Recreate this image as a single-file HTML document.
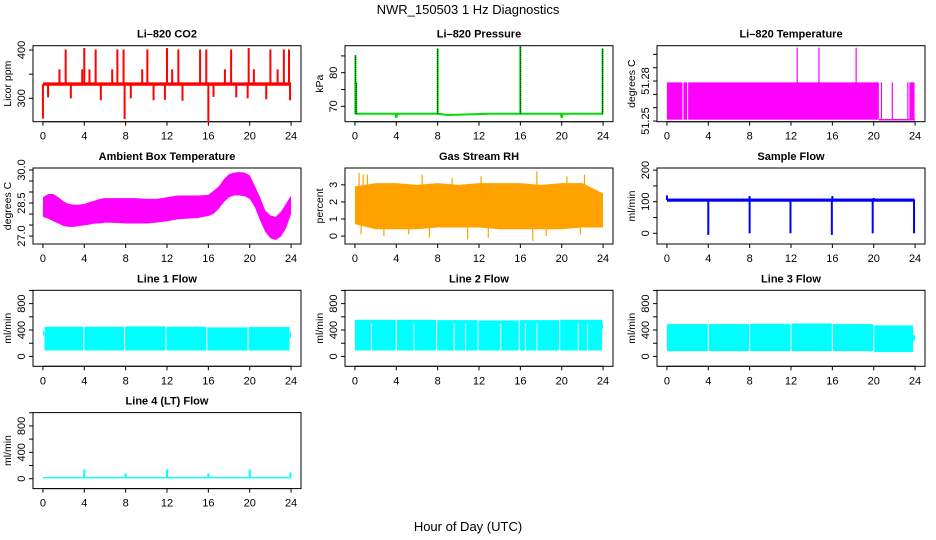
<!DOCTYPE html>
<html><head><meta charset="utf-8"><title>NWR_150503 1 Hz Diagnostics</title>
<style>
html,body{margin:0;padding:0;background:#fff;}
svg{display:block;font-family:"Liberation Sans",Arial,sans-serif;}
</style></head>
<body>
<svg id="chart" width="936" height="540" viewBox="0 0 936 540" xmlns="http://www.w3.org/2000/svg">
<text x="468" y="14" text-anchor="middle" font-size="13">NWR_150503 1 Hz Diagnostics</text>
<text x="468" y="531" text-anchor="middle" font-size="13">Hour of Day (UTC)</text>
</svg>
<script>
// ---------- data ----------
// CO2
const co2Base = [326, 333];
const co2SpikeT = [2.2,4.0,5.1,7.2,7.8,10.1,12.0,13.1,15.2,15.8,18.2,19.9,22.0,23.3,23.8,1.6,3.8,4.5,6.7,9.6,12.5,17.6,20.4,22.7,0.0,0.5,2.7,5.6,7.9,8.5,10.7,11.8,13.5,16.0,16.5,18.7,19.8,21.6,23.9];
const co2SpikeV = [401,404,401,401,401,401,404,401,401,401,401,404,401,401,401,360,360,360,360,360,360,360,360,360,258,302,300,296,257,300,296,297,295,250,303,302,300,298,296];
// Pressure
const presT = [0,0.8,3.9,4.0,4.1,8.0,9.0,13.0,16.0,19.9,20.0,20.1,24];
const presV = [67.8,67.8,67.8,66.6,67.8,67.8,67.4,67.8,67.8,67.8,66.6,67.8,67.8];
const presSpikeT = [0.05,0.12,8.0,16.0,23.95];
const presSpikeV = [85.2,77.0,87.2,87.8,87.2];
// Li-820 temperature
const tempBlockS = [0.0,1.6,2.05,23.45];
const tempBlockE = [1.5,1.95,20.5,23.95];
const tempLo = 51.251, tempHi = 51.279;
const tempLineS = 20.5, tempLineE = 24.0;
const tempSpikeT = [12.6,14.7,18.3,20.75,21.8,23.3];
const tempSpikeV = [51.305,51.305,51.305,51.279,51.279,51.279];
// Ambient box temperature
const ambT = [0,0.5,1,1.5,2,2.5,3,3.5,4,4.5,5,5.5,6,7,8,9,10,11,12,13,14,15,16,16.5,17,17.5,18,18.5,19,19.5,20,20.5,21,21.5,22,22.5,23,23.5,24];
const ambHi = [28.76,28.91,28.91,28.76,28.57,28.46,28.43,28.43,28.46,28.54,28.61,28.69,28.72,28.72,28.72,28.72,28.69,28.69,28.76,28.84,28.84,28.84,28.87,29.06,29.25,29.58,29.81,29.88,29.91,29.88,29.76,29.28,28.76,28.16,27.94,27.87,28.09,28.46,28.84];
const ambLo = [27.87,27.79,27.67,27.57,27.45,27.42,27.42,27.45,27.49,27.52,27.57,27.57,27.61,27.60,27.57,27.57,27.57,27.61,27.67,27.76,27.79,27.82,27.91,28.01,28.24,28.54,28.76,28.84,28.84,28.81,28.69,28.31,27.72,27.19,26.90,26.82,26.97,27.34,28.01];
// Gas stream RH
const rhT = [0,2,4,6,8,10,12,14,16,18,20,22,24];
const rhHi = [2.9,3.1,3.1,3.0,3.1,3.0,3.1,3.1,3.1,3.0,3.1,3.1,2.5];
const rhLo = [0.7,0.4,0.4,0.4,0.5,0.5,0.5,0.4,0.4,0.4,0.4,0.5,0.5];
const rhSpikeT = [0.4,0.8,1.2,6.5,9.4,12.2,17.6,20.5,22.2,0.6,2.8,5.2,7.2,10.9,12.9,17.2,18.5,21.8];
const rhSpikeV = [3.7,3.6,3.6,3.6,3.4,3.5,3.8,3.5,3.6,0.1,0.0,0.1,-0.1,-0.2,-0.1,-0.3,0.0,0.1];
// Sample flow
const sfBase = [100, 110];
const sfDropT = [4.0,8.0,11.95,15.95,19.9,23.9];
const sfDropV = [-5,0,0,-5,0,0];
const sfBumpT = [0.0,8.0,16.0,20.0];
const sfBumpV = [120,118,118,112];
// Line flows (blocks)
const l1S = [0.15,4.0,7.95,11.95,15.9,19.9];
const l1E = [3.9,7.85,11.85,15.8,19.8,23.85];
const l1Hi = [450,450,455,450,440,445];
const l1Lo = [90,90,90,90,90,90];
const l2S = [0.0,4.05,7.95,11.95,15.95,19.85];
const l2E = [3.95,7.85,11.85,15.85,19.75,23.9];
const l2Hi = [555,555,550,545,550,555];
const l2Lo = [90,90,90,90,90,90];
const l2GapT = [1.6,5.7,9.6,10.7,14.1,16.5,17.6,21.6,22.5];
const l3S = [0.0,4.05,8.05,12.05,16.05,20.05];
const l3E = [3.95,7.95,11.95,15.95,19.95,23.8];
const l3Hi = [490,490,495,500,490,470];
const l3Lo = [80,80,80,80,80,65];
const l4Base = [5, 25];
const l4SpikeT = [4.0,8.0,12.0,16.0,20.0,23.95];
const l4SpikeV = [140,80,140,80,140,95];

// ---------- helpers ----------
const NS = "http://www.w3.org/2000/svg";
const svg = document.getElementById("chart");
function mk(tag, attrs, parent) {
  const e = document.createElementNS(NS, tag);
  for (const k in attrs) e.setAttribute(k, attrs[k]);
  (parent || svg).appendChild(e);
  return e;
}
function panel(c, r, ylo, yhi, ticks, labels, title, ytitle, key) {
  const L = 33 + 312 * c, R = 301 + 312 * c;
  const T = 45.7 + 122.3 * r, B = 121.7 + 122.3 * r;
  const g = mk("g", {});
  
  
  const xs = h => L + (h + 0.96) / 25.92 * (R - L);
  const ys = v => B - (v - ylo) / (yhi - ylo) * (B - T);
  const t = mk("text", {x: (L + R) / 2, y: T - 8, "text-anchor": "middle", "font-size": 11, "font-weight": "bold"}, g);
  t.textContent = title;
  
  
  const yt = mk("text", {transform: `translate(${L - 22},${(T + B) / 2}) rotate(-90)`, "text-anchor": "middle", "font-size": 10.5}, g);
  yt.textContent = ytitle;
  
  
  const box = mk("rect", {x: L, y: T, width: R - L, height: B - T, fill: "none", stroke: "#000", "stroke-width": 1}, g);
  
  
  const xa = mk("g", {}, g);
  
  
  mk("line", {x1: xs(0), x2: xs(24), y1: B, y2: B, stroke: "#000"}, xa);
  for (let h = 0; h <= 24; h += 4) {
    mk("line", {x1: xs(h), x2: xs(h), y1: B, y2: B + 4, stroke: "#000"}, xa);
    const lt = mk("text", {x: xs(h), y: B + 18, "text-anchor": "middle", "font-size": 11}, xa);
    lt.textContent = h;
  }
  const ya = mk("g", {}, g);
  
  
  mk("line", {x1: L, x2: L, y1: ys(ticks[0]), y2: ys(ticks[ticks.length - 1]), stroke: "#000"}, ya);
  ticks.forEach(v => mk("line", {x1: L - 4, x2: L, y1: ys(v), y2: ys(v), stroke: "#000"}, ya));
  labels.forEach(v => {
    const lt = mk("text", {transform: `translate(${L - 8},${ys(v)}) rotate(-90)`, "text-anchor": "middle", "font-size": 11}, ya);
    lt.textContent = v;
  });
  const plot = mk("g", {}, g);
  
  
  return {xs, ys, plot, L, R, T, B};
}
function band(p, T, Hi, Lo, fill, name) {
  let d = "M" + T.map((t, i) => p.xs(t) + "," + p.ys(Hi[i])).join("L");
  for (let i = T.length - 1; i >= 0; i--) d += "L" + p.xs(T[i]) + "," + p.ys(Lo[i]);
  const e = mk("path", {d: d + "Z", fill: fill, stroke: "none"}, p.plot);
  
  
}
function vline(p, t, v0, v1, color, w, name, extra) {
  const e = mk("line", Object.assign({x1: p.xs(t), x2: p.xs(t), y1: p.ys(v0), y2: p.ys(v1), stroke: color, "stroke-width": w}, extra || {}), p.plot);
  
  
  return e;
}
function blocks(p, S, E, Hi, Lo, color, name) {
  S.forEach((s, i) => {
    const e = mk("rect", {x: p.xs(s), y: p.ys(Hi[i]), width: p.xs(E[i]) - p.xs(s), height: p.ys(Lo[i]) - p.ys(Hi[i]), fill: color}, p.plot);
    
    
  });
}

// ---------- CO2 ----------
let p = panel(0, 0, 251.6, 408.9, [300, 350, 400], [300, 400], "Li\u2013820 CO2", "Licor ppm", "co2");
let e = mk("rect", {x: p.xs(0), y: p.ys(co2Base[1]), width: p.xs(24) - p.xs(0), height: p.ys(co2Base[0]) - p.ys(co2Base[1]), fill: "#ff0000"}, p.plot);


co2SpikeT.forEach((t, i) => vline(p, t, 329, co2SpikeV[i], "#ff0000", 2, "co2-spike"));

// ---------- Pressure ----------
p = panel(1, 0, 65.42, 88.04, [70, 75, 80, 85], [70, 80], "Li\u2013820 Pressure", "kPa", "pressure");
e = mk("polyline", {points: presT.map((t, i) => p.xs(t) + "," + p.ys(presV[i])).join(" "), fill: "none", stroke: "#00dd00", "stroke-width": 2}, p.plot);


presSpikeT.forEach((t, i) => {
  vline(p, t, 67.8, presSpikeV[i], "#00dd00", 2, "pressure-spike");
  vline(p, t, 67.8, presSpikeV[i], "#000", 1, "pressure-spike-dots", {"stroke-dasharray": "1,1"});
});

// ---------- Li-820 Temperature ----------
p = panel(2, 0, 51.2495, 51.3065, [51.25, 51.26, 51.27, 51.28, 51.29, 51.30], ["51.25", "51.28"], "Li\u2013820 Temperature", "degrees C", "li820-temp");
tempBlockS.forEach((s, i) => {
  const r = mk("rect", {x: p.xs(s), y: p.ys(tempHi), width: p.xs(tempBlockE[i]) - p.xs(s), height: p.ys(tempLo) - p.ys(tempHi), fill: "#ff00ff"}, p.plot);
  
  
});
e = mk("line", {x1: p.xs(tempLineS), x2: p.xs(tempLineE), y1: p.ys(tempLo), y2: p.ys(tempLo), stroke: "#ff00ff", "stroke-width": 1.5}, p.plot);


tempSpikeT.forEach((t, i) => vline(p, t, tempLo, tempSpikeV[i], "#ff00ff", 1.2, "temp-spike"));

// ---------- Ambient ----------
p = panel(0, 1, 26.64, 30.09, [27, 27.5, 28, 28.5, 29, 29.5, 30], ["27.0", "28.5", "30.0"], "Ambient Box Temperature", "degrees C", "ambient");
band(p, ambT, ambHi, ambLo, "#ff00ff", "ambient-band");

// ---------- RH ----------
p = panel(1, 1, -0.464, 3.987, [0, 1, 2, 3], [0, 1, 2, 3], "Gas Stream RH", "percent", "rh");
band(p, rhT, rhHi, rhLo, "#ffa200", "rh-band");
rhSpikeT.forEach((t, i) => vline(p, t, 1.7, rhSpikeV[i], "#ffa000", 1.2, "rh-spike"));

// ---------- Sample flow ----------
p = panel(2, 1, -33.8, 206.7, [0, 50, 100, 150, 200], [0, 100, 200], "Sample Flow", "ml/min", "sample-flow");
e = mk("rect", {x: p.xs(0), y: p.ys(sfBase[1]), width: p.xs(23.95) - p.xs(0), height: p.ys(sfBase[0]) - p.ys(sfBase[1]), fill: "#0000ff"}, p.plot);


sfDropT.forEach((t, i) => vline(p, t, 105, sfDropV[i], "#0000ff", 2, "sample-flow-drop"));
sfBumpT.forEach((t, i) => vline(p, t, 105, sfBumpV[i], "#0000ff", 2, "sample-flow-bump"));

// ---------- Line flows ----------
const lt = [0, 200, 400, 600, 800, 1000], ll = [0, 400, 800];
p = panel(0, 2, -150, 1002, lt, ll, "Line 1 Flow", "ml/min", "line1");
blocks(p, l1S, l1E, l1Hi, l1Lo, "#00ffff", "line1-block");
blocks(p, [0.0, 23.9], [0.12, 24.0], [380, 370], [320, 280], "#00ffff", "line1-edge");

p = panel(1, 2, -150, 1002, lt, ll, "Line 2 Flow", "ml/min", "line2");
blocks(p, l2S, l2E, l2Hi, l2Lo, "#00ffff", "line2-block");
blocks(p, [23.9], [24.0], [510], [420], "#00ffff", "line2-edge");
l2GapT.forEach(t => vline(p, t, 95, 500, "#fff", 1, "line2-gap"));

p = panel(2, 2, -150, 1002, lt, ll, "Line 3 Flow", "ml/min", "line3");
blocks(p, l3S, l3E, l3Hi, l3Lo, "#00ffff", "line3-block");
blocks(p, [23.8], [24.0], [320], [240], "#00ffff", "line3-edge");

p = panel(0, 3, -150, 1002, lt, ll, "Line 4 (LT) Flow", "ml/min", "line4");
e = mk("rect", {x: p.xs(0), y: p.ys(l4Base[1]), width: p.xs(24) - p.xs(0), height: p.ys(l4Base[0]) - p.ys(l4Base[1]), fill: "#00ffff"}, p.plot);


l4SpikeT.forEach((t, i) => vline(p, t, 15, l4SpikeV[i], "#00ffff", 2, "line4-spike"));
</script>
</body></html>
